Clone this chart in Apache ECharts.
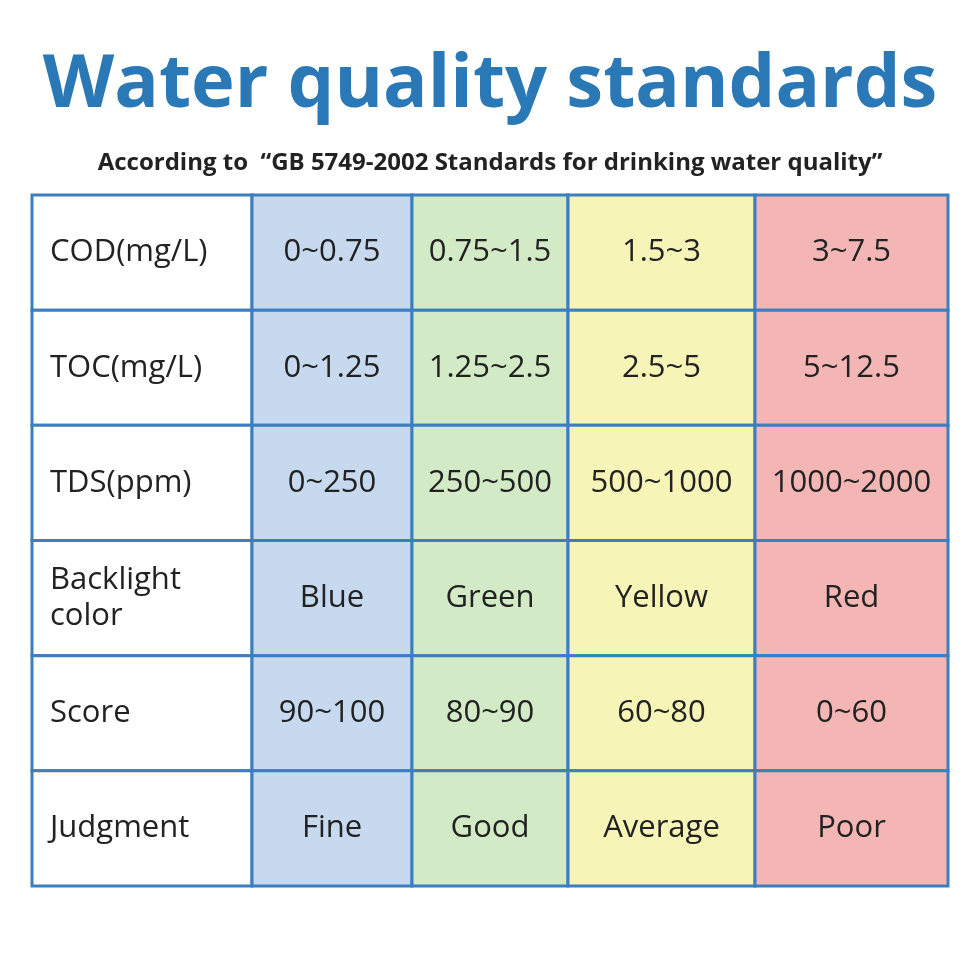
<!DOCTYPE html>
<html><head><meta charset="utf-8">
<script src="https://cdn.jsdelivr.net/npm/echarts@6/dist/echarts.min.js"></script>
<style>html,body{margin:0;padding:0;background:#fff}#c{width:980px;height:980px}</style>
</head><body><div id="c"></div>
<script>
const rowLabels = ["COD(mg/L)","TOC(mg/L)","TDS(ppm)","Backlight\ncolor","Score","Judgment"];
const levels = ["Blue","Green","Yellow","Red"];
const codValues = ["0~0.75","0.75~1.5","1.5~3","3~7.5"];
const tocValues = ["0~1.25","1.25~2.5","2.5~5","5~12.5"];
const tdsValues = ["0~250","250~500","500~1000","1000~2000"];
const colorValues = ["Blue","Green","Yellow","Red"];
const scoreValues = ["90~100","80~90","60~80","0~60"];
const judgmentValues = ["Fine","Good","Average","Poor"];
const rows = [codValues,tocValues,tdsValues,colorValues,scoreValues,judgmentValues];

const colEdges = [0,220,380,536,723,916];
const fills = ["#ffffff","#c6d9ef","#d3eac6","#f7f4b8","#f4b5b5"];
const data = [];
rows.forEach((r,ri)=>{
  data.push([0,ri,rowLabels[ri]]);
  r.forEach((v,ci)=>data.push([ci+1,ri,v]));
});
const chart = echarts.init(document.getElementById('c'));
chart.setOption({
  title:[{text:"Water quality standards",left:'center',top:44,textStyle:{fontFamily:"Open Sans",fontWeight:'bold',fontSize:74,color:"#2a78b6"}},
         {text:"According to  \u201cGB 5749-2002 Standards for drinking water quality\u201d",left:'center',top:146,textStyle:{fontFamily:"Open Sans",fontWeight:'bold',fontSize:24,color:"#222"}}],
  grid:{left:32,top:195,width:916,height:691},
  xAxis:{type:'value',min:0,max:916,show:false},
  yAxis:{type:'value',min:0,max:6,inverse:true,show:false},
  series:[{type:'custom',data:data,renderItem:(p,api)=>{
    const c=api.value(0), r=api.value(1);
    const p0=api.coord([colEdges[c],r]), p1=api.coord([colEdges[c+1],r+1]);
    const txt=data[p.dataIndex][2];
    return {type:'group',children:[
      {type:'rect',shape:{x:p0[0],y:p0[1],width:p1[0]-p0[0],height:p1[1]-p0[1]},style:{fill:fills[c],stroke:"#3b7fc0",lineWidth:3}},
      {type:'text',style:{text:txt,x:c===0?p0[0]+18:(p0[0]+p1[0])/2,y:(p0[1]+p1[1])/2,align:c===0?'left':'center',verticalAlign:'middle',fontFamily:"Open Sans",fontSize:31,lineHeight:36,fill:"#222"}}
    ]};
  }}]
});
</script></body></html>
